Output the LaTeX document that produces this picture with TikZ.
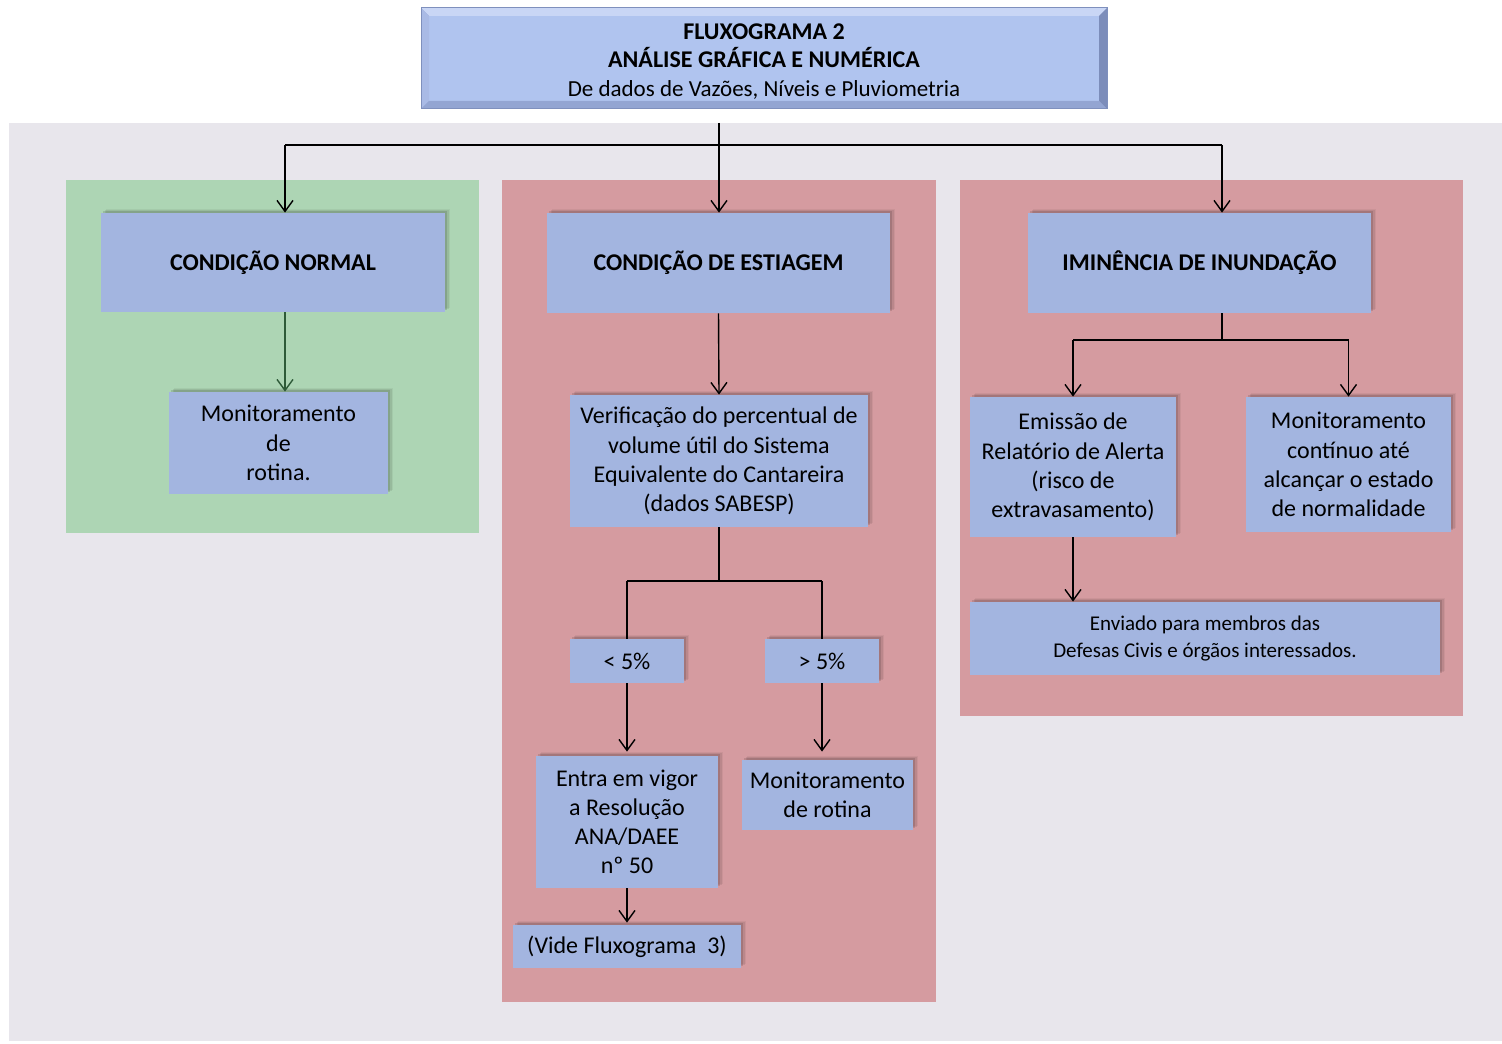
\documentclass[tikz,border=0pt]{standalone}
\usepackage{fontspec}
\setmainfont{Carlito}
\usetikzlibrary{arrows.meta,shadows}
\definecolor{boxc}{HTML}{A3B5E0}
\definecolor{greenp}{HTML}{ADD5B4}
\definecolor{redp}{HTML}{D59BA0}
\definecolor{grayb}{HTML}{E8E6EC}
\definecolor{titc}{HTML}{B0C4EF}
\definecolor{darkgreen}{HTML}{2E5A38}
\definecolor{bvout}{HTML}{8C9DC9}
\definecolor{bvtop}{HTML}{C9D6F5}
\definecolor{bvleft}{HTML}{A9BAE5}
\definecolor{bvright}{HTML}{7C8DBA}
\definecolor{bvbot}{HTML}{93A5D2}
\definecolor{bvline}{HTML}{7F90BD}
\tikzset{
  bx/.style={fill=boxc, inner sep=0pt, align=center,
    font=\fontsize{12}{14.6}\selectfont,
    general shadow={shadow xshift=2.6pt, shadow yshift=2.2pt, fill=black, opacity=.05},
    general shadow={shadow xshift=1.9pt, shadow yshift=1.6pt, fill=black, opacity=.08},
    general shadow={shadow xshift=1.2pt, shadow yshift=1.0pt, fill=black, opacity=.12}},
  hd/.style={bx, font=\fontsize{12}{14.6}\selectfont\bfseries},
  arr/.style={draw=black, line width=0.7pt, -{Straight Barb[length=5.5pt,width=8pt,line width=0.7pt]}},
  ln/.style={draw=black, line width=0.7pt}
}
\begin{document}
\begin{tikzpicture}[x=0.5pt,y=-0.5pt]
\useasboundingbox (0,0) rectangle (1502,1043);
\fill[white] (0,0) rectangle (1502,1043);
\fill[grayb] (9,123) rectangle (1502,1041);
% panels
\fill[greenp] (66,180) rectangle (479,533);
\fill[redp] (502,180) rectangle (936,1002);
\fill[redp] (960,180) rectangle (1463,716);
% title box with bevel
\fill[bvout] (421,8) rectangle (1107,109);
\fill[titc] (429,16) rectangle (1099,101);
\fill[bvtop] (421,8) -- (1107,8) -- (1099,16) -- (429,16) -- cycle;
\fill[bvleft] (421,8) -- (429,16) -- (429,101) -- (421,109) -- cycle;
\fill[bvright] (1107,8) -- (1099,16) -- (1099,101) -- (1107,109) -- cycle;
\fill[bvbot] (421,109) -- (429,101) -- (1099,101) -- (1107,109) -- cycle;
\draw[bvline, line width=0.5pt] (421,8) rectangle (1107,109);
\node[align=center, inner sep=0pt, font=\fontsize{12}{14.25}\selectfont] (title) at (764,61.5)
  {\textbf{FLUXOGRAMA 2}\\
   \textbf{ANÁLISE GRÁFICA E NUMÉRICA}\\
   {\fontsize{11.5}{14.25}\selectfont De dados de Vazões, Níveis e Pluviometria}};
% boxes
\node[hd, minimum width=172pt, minimum height=49.5pt] (CN) at (273,262.5) {CONDIÇÃO NORMAL};
\node[hd, minimum width=171.5pt, minimum height=50pt] (CE) at (718.5,263) {CONDIÇÃO DE ESTIAGEM};
\node[hd, minimum width=171.5pt, minimum height=50pt] (II) at (1199.5,263) {IMINÊNCIA DE INUNDAÇÃO};
\node[bx, minimum width=109.5pt, minimum height=51pt] (ML) at (278.5,443) {Monitoramento\\de\\rotina.};
\node[bx, minimum width=149pt, minimum height=66pt] (VER) at (719,461)
  {Verificação do percentual de\\volume útil do Sistema\\Equivalente do Cantareira\\(dados SABESP)};
\node[bx, minimum width=57pt, minimum height=22pt] (LT) at (627,661) {< 5\%};
\node[bx, minimum width=57pt, minimum height=22pt] (GT) at (822,661) {> 5\%};
\node[bx, minimum width=91pt, minimum height=66pt] (EN) at (627,822)
  {Entra em vigor\\a Resolução\\ANA/DAEE\\nº 50};
\node[bx, minimum width=85.5pt, minimum height=35pt] (MR) at (827.5,795) {Monitoramento\\de rotina};
\node[bx, minimum width=114pt, minimum height=21.5pt] (VI) at (627,946.5) {(Vide Fluxograma\ \ 3)};
\node[bx, minimum width=103pt, minimum height=70pt] (EM) at (1073,467)
  {Emissão de\\Relatório de Alerta\\(risco de\\extravasamento)};
\node[bx, minimum width=102.5pt, minimum height=67.5pt] (MC) at (1348.5,464.5)
  {Monitoramento\\contínuo até\\alcançar o estado\\de normalidade};
\node[bx, minimum width=235pt, minimum height=36.5pt, font=\fontsize{10.5}{13.5}\selectfont] (EV) at (1205,638.5)
  {Enviado para membros das\\Defesas Civis e órgãos interessados.};
% connector coordinates
\coordinate (top) at (719,123);
\coordinate (jL) at (285,145);
\coordinate (jR) at (1222,145);
\coordinate (jM) at (719,581);
\coordinate (jI) at (1222,340);
% top distribution
\draw[arr] (top) -- (top |- CE.north);
\draw[ln] (jL) -- (jR);
\draw[arr] (jL) -- (jL |- CN.north);
\draw[arr] (jR) -- (jR |- II.north);
% normal branch
\draw[arr, draw=darkgreen, -{Straight Barb[length=5.5pt,width=8pt,line width=0.7pt,color=darkgreen]}] (jL |- CN.south) -- (jL |- ML.north);
% estiagem branch
\draw[arr] (CE.south) -- (VER.north);
\draw[ln] (VER.south) -- (jM);
\draw[ln] (LT.north |- jM) -- (GT.north |- jM);
\draw[ln] (LT.north |- jM) -- (LT.north);
\draw[ln] (GT.north |- jM) -- (GT.north);
\draw[arr] (LT.south) -- ([yshift=2pt]EN.north);
\draw[arr] (GT.south) -- ([yshift=4pt]MR.north -| GT.south);
\draw[arr] (EN.south) -- ([yshift=1pt]VI.north);
% inundacao branch
\draw[ln] (jI |- II.south) -- (jI);
\draw[ln] (EM.north |- jI) -- (MC.north |- jI);
\draw[arr] (EM.north |- jI) -- (EM.north);
\draw[arr] (MC.north |- jI) -- (MC.north);
\draw[arr] (EM.south) -- (EM.south |- EV.north);
\end{tikzpicture}
\end{document}
